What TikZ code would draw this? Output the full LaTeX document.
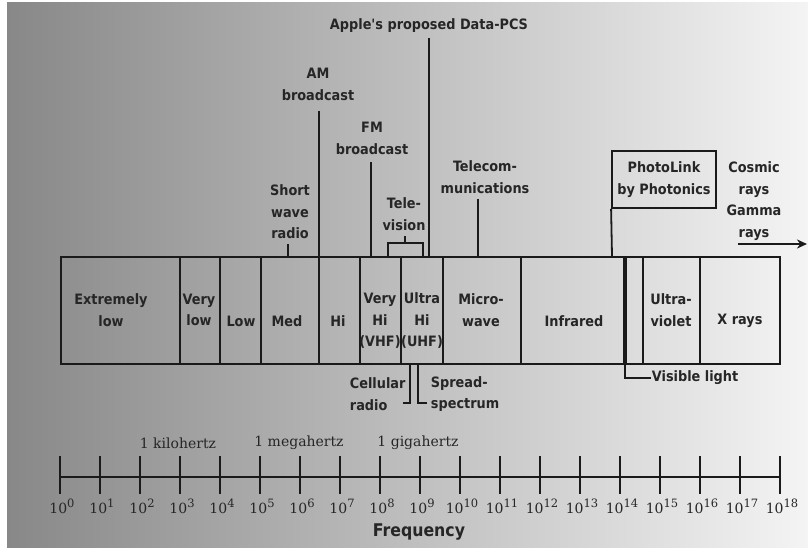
\documentclass[tikz,border=0pt]{standalone}
\usepackage{fontspec}
\setmainfont{DejaVu Sans}
\newfontfamily\lab{DejaVu Sans Condensed}
\newfontfamily\serf{DejaVu Serif}
\usetikzlibrary{arrows.meta}
\definecolor{ink}{HTML}{1A1A1A}
\definecolor{txt}{HTML}{262626}
\definecolor{bgL}{RGB}{136,136,136}
\definecolor{bgR}{RGB}{244,244,244}
\newcommand{\tenpow}[1]{10\raisebox{0.42em}{\fontsize{11.5}{11.5}\selectfont #1}}
\begin{document}
\begin{tikzpicture}[x=1pt,y=-1pt,color=ink,line width=1.8pt,
  lbl/.style={font=\lab\bfseries\fontsize{14.3}{21.5}\selectfont, text=txt, align=center, inner sep=0pt},
  serl/.style={font=\serf\fontsize{14}{16}\selectfont, text=txt, inner sep=0pt},
  sep/.style={line width=1.8pt},
  thicksep/.style={line width=4.5pt}]
\useasboundingbox (0,0) rectangle (808,548);
\fill[white] (0,0) rectangle (808,548);
\shade[left color=bgL, right color=bgR, draw=none] (7,3) rectangle (808,548);

% main spectrum box
\node[draw, line width=1.8pt, minimum width=719pt, minimum height=107pt, inner sep=0pt, anchor=north west] (spec) at (60,256) {};
\foreach \x in {180,220,261,319,360,401,443,521,643,700}
  \draw[sep] (\x,256) -- (\x,363);
\draw[thicksep] (625,256) -- (625,363);

% band labels
\node[lbl] (elow) at (111,310) {Extremely\\low};
\node[lbl] (vlow) at (199,310) {Very\\low};
\node[lbl] (low) at (241,321) {Low};
\node[lbl] (med) at (287,321) {Med};
\node[lbl] (hi) at (338,321) {Hi};
\node[lbl] (vhf) at (380,321) {Very\\Hi\\(VHF)};
\node[lbl] (uhf) at (422,321) {Ultra\\Hi\\(UHF)};
\node[lbl] (micro) at (481,310) {Micro-\\wave};
\node[lbl] (ir) at (574,321) {Infrared};
\node[lbl] (uv) at (671,310) {Ultra-\\violet};
\node[lbl] (xr) at (740,321) {X rays};

% labels above
\node[lbl] (apple) at (429,26) {Apple's proposed Data-PCS};
\node[lbl] (am) at (318,84.5) {AM\\broadcast};
\node[lbl] (fm) at (372,138.5) {FM\\broadcast};
\node[lbl] (tel) at (485,177) {Telecom-\\munications};
\node[lbl] (tv) at (404,214) {Tele-\\vision};
\node[lbl] (sw) at (290,212) {Short\\wave\\radio};
\node[lbl, draw, line width=1.8pt, minimum width=104pt, minimum height=57pt] (photo) at (664,179.5) {PhotoLink\\by Photonics};
\node[lbl] (cosmic) at (754,201) {Cosmic\\rays\\Gamma\\rays};

\coordinate (arrS) at (738,244);
\coordinate (arrE) at (807,244);
\draw[-{Stealth[length=10pt,width=9pt]}] (arrS) -- (arrE);

% pointer lines above
\draw (429,38) -- (429,256);
\draw (319,111) -- (319,256);
\draw (371,162) -- (371,256);
\draw (478,199) -- (478,256);
\draw (288,244) -- (288,256);
\draw (388,256) -- (388,243) -- (423,243) -- (423,256);
\draw (405,236) -- (405,243);
\draw (photo.south west) -- (612,256);

% labels below
\node[lbl, align=left, anchor=west] (cell) at (349,394) {Cellular\\radio};
\node[lbl, align=left, anchor=west] (spread) at (430,394) {Spread-\\spectrum};
\node[lbl, anchor=west] (vis) at (651,378) {Visible light};
\draw (410,363) -- (410,403) -- (403,403);
\draw (418,363) -- (418,403) -- (427,403);
\draw (625,363) -- (625,378) -- (vis.west);

% frequency axis
\coordinate (ax0) at (60,477);
\coordinate (ax1) at (780,477);
\draw (ax0) -- (ax1);
\foreach \k in {0,...,18} {
  \draw (60+40*\k,456) -- (60+40*\k,494);
  \node[serl] (t\k) at (62+40*\k,506) {\tenpow{\k}};
}
\node[serl] (khz) at (178,443) {1 kilohertz};
\node[serl] (mhz) at (299,443) {1 megahertz};
\node[serl] (ghz) at (418,443) {1 gigahertz};
\node[lbl, font=\lab\bfseries\fontsize{17.5}{20}\selectfont] (freq) at (419,532) {Frequency};
\end{tikzpicture}
\end{document}
